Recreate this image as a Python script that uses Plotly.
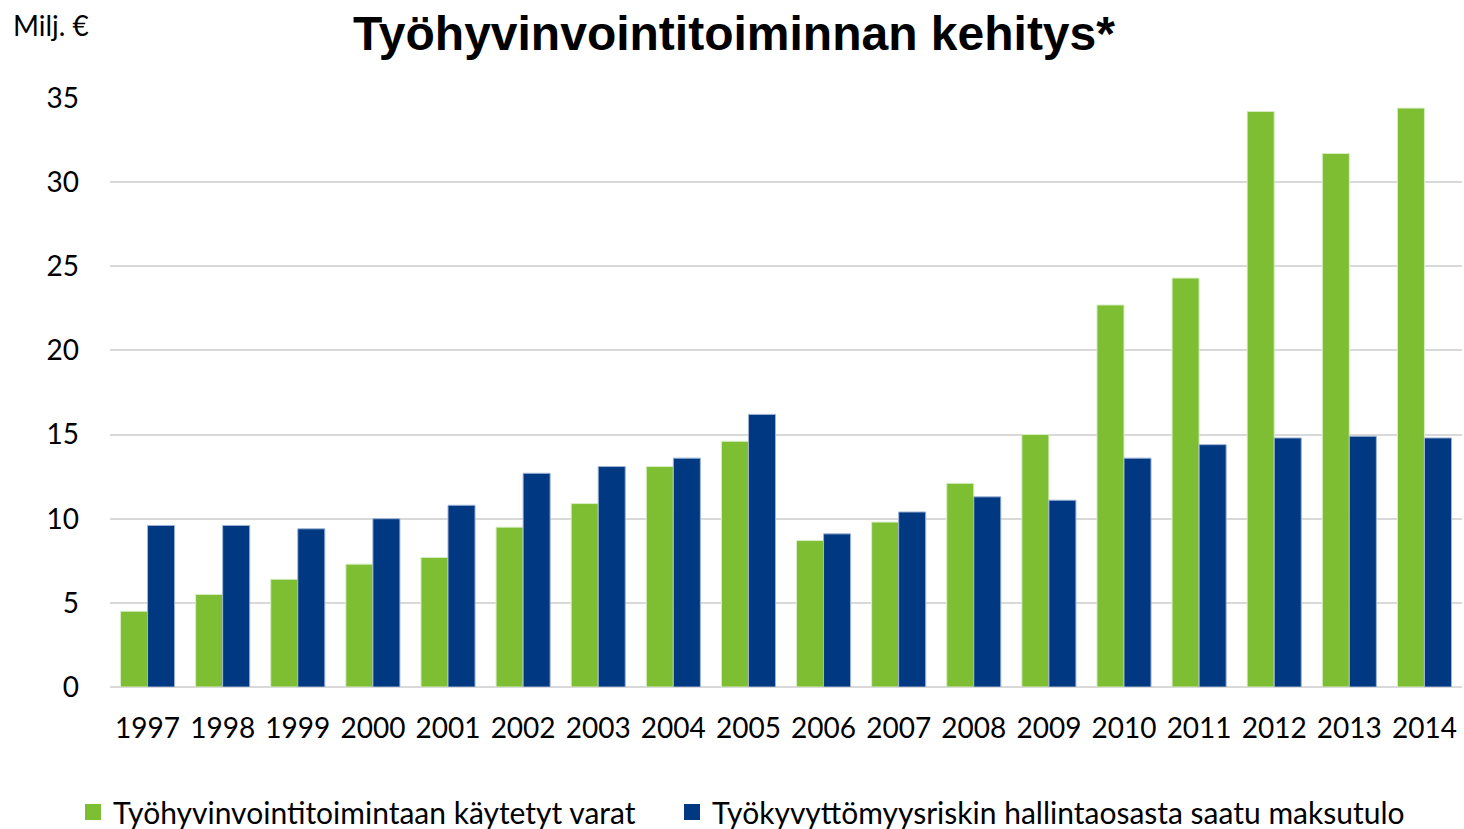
import plotly.graph_objects as go

years = ["1997", "1998", "1999", "2000", "2001", "2002", "2003", "2004", "2005",
         "2006", "2007", "2008", "2009", "2010", "2011", "2012", "2013", "2014"]
kaytetyt_varat = [4.5, 5.5, 6.4, 7.3, 7.7, 9.5, 10.9, 13.1, 14.6,
                  8.7, 9.8, 12.1, 15.0, 22.7, 24.3, 34.2, 31.7, 34.4]
maksutulo = [9.6, 9.6, 9.4, 10.0, 10.8, 12.7, 13.1, 13.6, 16.2,
             9.1, 10.4, 11.3, 11.1, 13.6, 14.4, 14.8, 14.9, 14.8]
series_names = ["Työhyvinvointitoimintaan käytetyt varat",
                "Työkyvyttömyysriskin hallintaosasta saatu maksutulo"]
y_ticks = [0, 5, 10, 15, 20, 25, 30, 35]

GREEN = "#7dbe32"
BLUE = "#003882"
FONT = "Lato"

fig = go.Figure()
fig.add_trace(go.Bar(x=years, y=kaytetyt_varat, name=series_names[0], showlegend=False,
                     marker=dict(color=GREEN, line=dict(color="#d8edc4", width=1))))
fig.add_trace(go.Bar(x=years, y=maksutulo, name=series_names[1], showlegend=False,
                     marker=dict(color=BLUE, line=dict(color="#9fb4d4", width=1))))
# legend entries with larger square swatches, one legend per entry
for nm, col, lg in zip(series_names, [GREEN, BLUE], ["legend", "legend2"]):
    fig.add_trace(go.Scatter(x=[None], y=[None], mode="markers", name=nm, legend=lg,
                             marker=dict(symbol="square", size=17, color=col)))

legend_common = dict(orientation="h", xref="container", yref="container",
                     xanchor="left", y=17 / 829, yanchor="middle",
                     font=dict(family=FONT, size=30, color="black"),
                     itemwidth=30, bgcolor="rgba(0,0,0,0)")

fig.update_layout(
    width=1464, height=829,
    paper_bgcolor="white", plot_bgcolor="white",
    margin=dict(l=110, r=2, t=98, b=142),
    barmode="group", bargap=0.28, bargroupgap=0,
    font=dict(family=FONT, size=28, color="black"),
    title=dict(text="<b>Työhyvinvointitoiminnan kehitys*</b>",
               font=dict(family="Liberation Sans, Arial", size=48, color="black"),
               x=734 / 1464, xanchor="center", xref="container",
               y=1 - 33 / 829, yanchor="middle", yref="container"),
    showlegend=True,
    legend=dict(x=73 / 1464, **legend_common),
    legend2=dict(x=672 / 1464, **legend_common),
    annotations=[dict(text="Milj. €", xref="paper", yref="paper",
                      x=-110 / 1362 + 10 / 1362, xanchor="left",
                      y=1 + (98 - 25) / 589, yanchor="middle",
                      showarrow=False, font=dict(family=FONT, size=28, color="black"))],
)
fig.update_xaxes(showgrid=False, showline=False, ticks="", ticklabelstandoff=22,
                 tickfont=dict(family=FONT, size=28, color="black"))
fig.update_yaxes(range=[0, 35], tickvals=y_ticks, showgrid=True, gridcolor="#d9d9d9",
                 gridwidth=2, zeroline=True, zerolinecolor="#d9d9d9", zerolinewidth=2,
                 showline=False, ticks="", ticklabelstandoff=30,
                 tickfont=dict(family=FONT, size=28, color="black"))

fig.write_html("out.html", config={"displayModeBar": False},
               post_script="document.body.style.margin='0';document.body.style.overflow='hidden';")
